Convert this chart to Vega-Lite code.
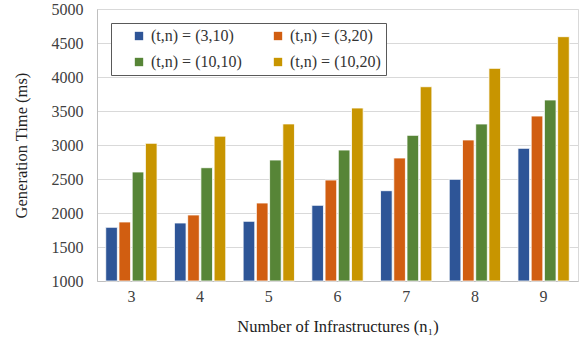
{
  "$schema": "https://vega.github.io/schema/vega-lite/v6.json",
  "width": 481,
  "height": 272,
  "autosize": {"type": "none"},
  "padding": {"left": 97, "top": 9, "right": 9, "bottom": 64},
  "background": "white",
  "config": {
    "font": "Liberation Serif",
    "view": {"stroke": "#D9D9D9", "strokeWidth": 1},
    "axis": {"labelFont": "Liberation Serif", "titleFont": "Liberation Serif", "labelColor": "#404040", "titleColor": "#222222", "titleFontWeight": "normal"},
    "legend": {"labelFont": "Liberation Serif"}
  },
  "data": {
    "values": [
      {"n": "3", "s": "(t,n) = (3,10)", "v": 1790},
      {"n": "3", "s": "(t,n) = (3,20)", "v": 1868},
      {"n": "3", "s": "(t,n) = (10,10)", "v": 2603},
      {"n": "3", "s": "(t,n) = (10,20)", "v": 3025},
      {"n": "4", "s": "(t,n) = (3,10)", "v": 1853},
      {"n": "4", "s": "(t,n) = (3,20)", "v": 1971},
      {"n": "4", "s": "(t,n) = (10,10)", "v": 2666},
      {"n": "4", "s": "(t,n) = (10,20)", "v": 3130},
      {"n": "5", "s": "(t,n) = (3,10)", "v": 1878},
      {"n": "5", "s": "(t,n) = (3,20)", "v": 2147},
      {"n": "5", "s": "(t,n) = (10,10)", "v": 2779},
      {"n": "5", "s": "(t,n) = (10,20)", "v": 3310},
      {"n": "6", "s": "(t,n) = (3,10)", "v": 2113},
      {"n": "6", "s": "(t,n) = (3,20)", "v": 2485},
      {"n": "6", "s": "(t,n) = (10,10)", "v": 2926},
      {"n": "6", "s": "(t,n) = (10,20)", "v": 3544},
      {"n": "7", "s": "(t,n) = (3,10)", "v": 2328},
      {"n": "7", "s": "(t,n) = (3,20)", "v": 2809},
      {"n": "7", "s": "(t,n) = (10,10)", "v": 3142},
      {"n": "7", "s": "(t,n) = (10,20)", "v": 3857},
      {"n": "8", "s": "(t,n) = (3,10)", "v": 2495},
      {"n": "8", "s": "(t,n) = (3,20)", "v": 3074},
      {"n": "8", "s": "(t,n) = (10,10)", "v": 3309},
      {"n": "8", "s": "(t,n) = (10,20)", "v": 4127},
      {"n": "9", "s": "(t,n) = (3,10)", "v": 2951},
      {"n": "9", "s": "(t,n) = (3,20)", "v": 3426},
      {"n": "9", "s": "(t,n) = (10,10)", "v": 3662},
      {"n": "9", "s": "(t,n) = (10,20)", "v": 4593}
    ]
  },
  "mark": {"type": "bar", "stroke": "white", "strokeWidth": 0.8},
  "encoding": {
    "x": {
      "field": "n", "type": "ordinal",
      "scale": {"paddingInner": 0.253, "paddingOuter": 0.127},
      "axis": {
        "title": "Number of Infrastructures (n₁)",
        "labelFont": "Liberation Serif", "titleFont": "Liberation Serif",
        "labelAngle": 0, "labelFontSize": 16, "titleFontSize": 16.5,
        "ticks": false, "labelPadding": 7, "titlePadding": 14,
        "domainColor": "#BFBFBF"
      }
    },
    "xOffset": {
      "field": "s", "type": "nominal",
      "sort": ["(t,n) = (3,10)", "(t,n) = (3,20)", "(t,n) = (10,10)", "(t,n) = (10,20)"],
      "scale": {"paddingInner": 0.12, "paddingOuter": 0}
    },
    "y": {
      "field": "v", "type": "quantitative",
      "scale": {"domain": [1000, 5000], "nice": false, "zero": false},
      "axis": {
        "title": "Generation Time (ms)",
        "labelFont": "Liberation Serif", "titleFont": "Liberation Serif",
        "values": [1000, 1500, 2000, 2500, 3000, 3500, 4000, 4500, 5000],
        "format": "d",
        "labelFontSize": 16, "titleFontSize": 16.5,
        "ticks": false, "labelPadding": 14, "titlePadding": 22,
        "gridColor": "#D9D9D9", "domainColor": "#BFBFBF"
      }
    },
    "y2": {"datum": 1000},
    "color": {
      "field": "s", "type": "nominal",
      "sort": ["(t,n) = (3,10)", "(t,n) = (3,20)", "(t,n) = (10,10)", "(t,n) = (10,20)"],
      "scale": {
        "domain": ["(t,n) = (3,10)", "(t,n) = (3,20)", "(t,n) = (10,10)", "(t,n) = (10,20)"],
        "range": ["#2E5597", "#D15E11", "#578537", "#C89500"]
      },
      "legend": {
        "title": null,
        "orient": "none", "legendX": 14, "legendY": 14,
        "direction": "horizontal", "columns": 2,
        "strokeColor": "#595959", "fillColor": "white", "padding": 5,
        "symbolType": "square", "symbolSize": 70, "symbolStrokeWidth": 0,
        "symbolOffset": 15,
        "labelFont": "Liberation Serif", "labelFontSize": 16, "labelColor": "#333333",
        "labelOffset": 4, "columnPadding": 13, "rowPadding": 10, "labelLimit": 200
      }
    }
  }
}
